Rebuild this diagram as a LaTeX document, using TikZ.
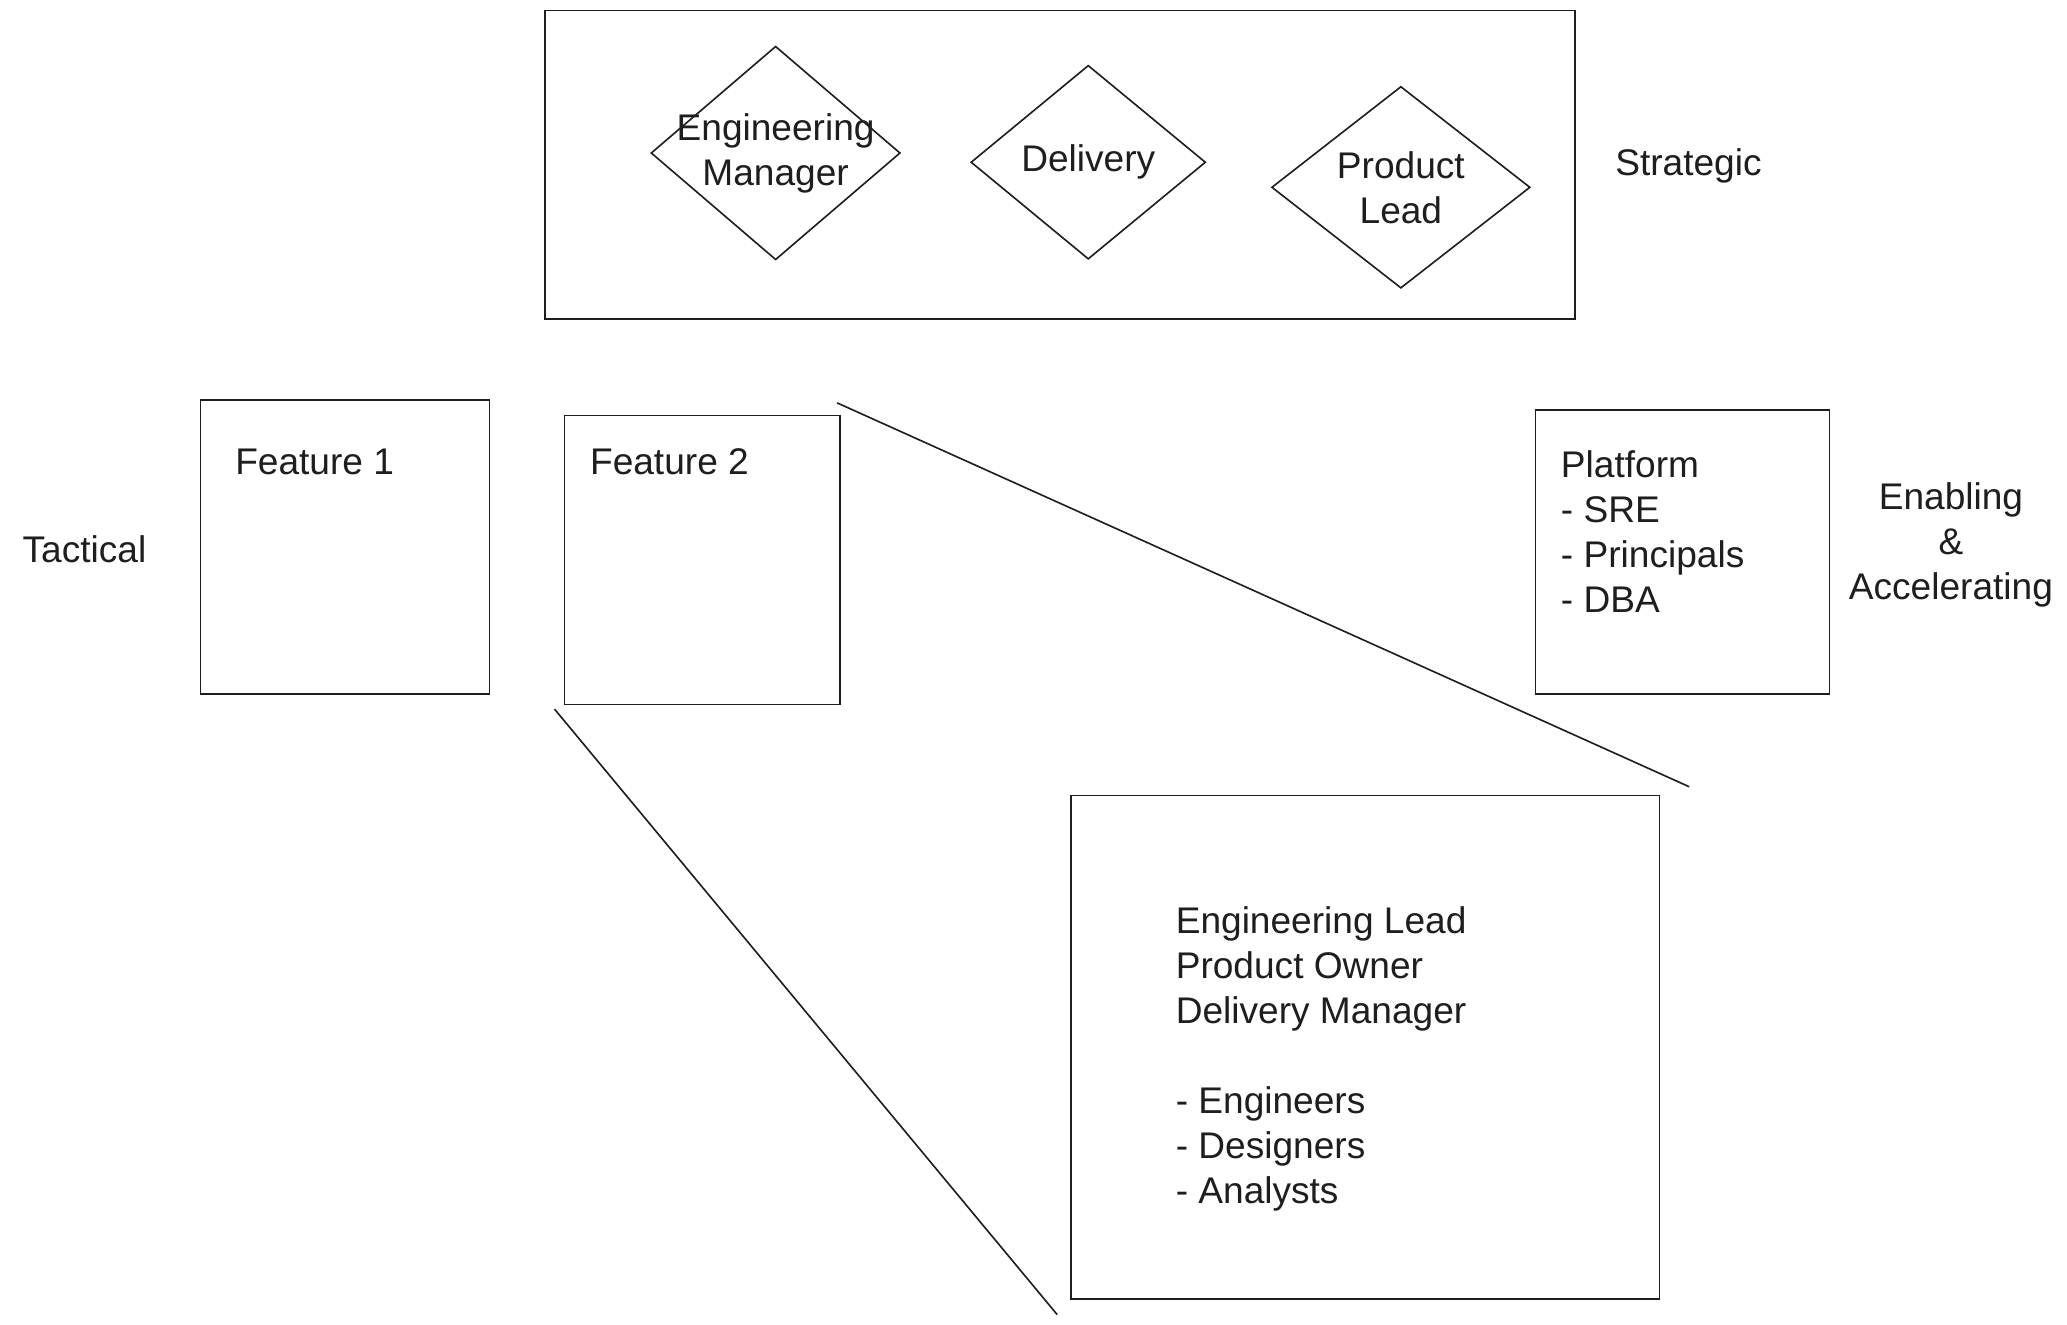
\documentclass[tikz,border=0pt]{standalone}
\usepackage{fontspec}
\setmainfont{Liberation Sans}
\usetikzlibrary{shapes.geometric}
\definecolor{ink}{HTML}{1E1E1E}

\tikzset{
  sketch/.style={draw=ink, line width=0.7pt},
  boxnode/.style={sketch, rectangle, inner sep=0pt},
  rolenode/.style={sketch, diamond, inner sep=0pt},
  word/.style={text=ink, inner sep=0pt, align=left,
    font=\fontsize{16}{19.4}\selectfont},
}

\begin{document}
\begin{tikzpicture}[x=0.02cm,y=-0.02cm]
\useasboundingbox (0,0) rectangle (1567,1004);

% strategic layer
\node[boxnode, minimum width=15.62cm, minimum height=4.68cm] (lead) at (803.5,125) {};
\node[rolenode, minimum width=3.78cm, minimum height=3.24cm] (em) at (588,116) {};
\node[rolenode, minimum width=3.56cm, minimum height=2.94cm] (dl) at (825,123) {};
\node[rolenode, minimum width=3.92cm, minimum height=3.06cm] (pl) at (1062,142) {};
\node[word, align=center] (emtxt) at (em) {Engineering\\Manager};
\node[word, align=center] (dltxt) at (dl) {Delivery};
\node[word, align=center] (pltxt) at (pl) {Product\\Lead};
\node[word] (strat) at (1280,126) {Strategic};

% tactical layer
\node[word] (tact) at (64,416) {Tactical};
\node[boxnode, minimum width=4.38cm, minimum height=4.46cm] (feat1) at (261.5,414.5) {};
\node[boxnode, minimum width=4.18cm, minimum height=4.38cm] (feat2) at (532.5,424.5) {};
\node[word, anchor=base west] (f1txt) at (178,360) {Feature 1};
\node[word, anchor=base west] (f2txt) at (447,360) {Feature 2};

% enabling layer
\node[boxnode, minimum width=4.46cm, minimum height=4.30cm] (plat) at (1275.5,418.5) {};
\node[word, anchor=west] (plattxt) at (1183,403) {Platform\\- SRE\\- Principals\\- DBA};
\node[word, align=center] (enab) at (1479,413) {Enabling\\\&\\Accelerating};

% zoom into feature 2
\node[boxnode, minimum width=8.92cm, minimum height=7.64cm] (team) at (1035,794) {};
\node[word, anchor=west] (teamtxt) at (891,803)
  {Engineering Lead\\Product Owner\\Delivery Manager\\[19.4pt]- Engineers\\- Designers\\- Analysts};
\draw[sketch] ([shift={(-3,-9)}]feat2.north east) -- ([shift={(22,-6)}]team.north east);
\draw[sketch] ([shift={(-7,3)}]feat2.south west) -- ([shift={(-10,11)}]team.south west);
\end{tikzpicture}
\end{document}
